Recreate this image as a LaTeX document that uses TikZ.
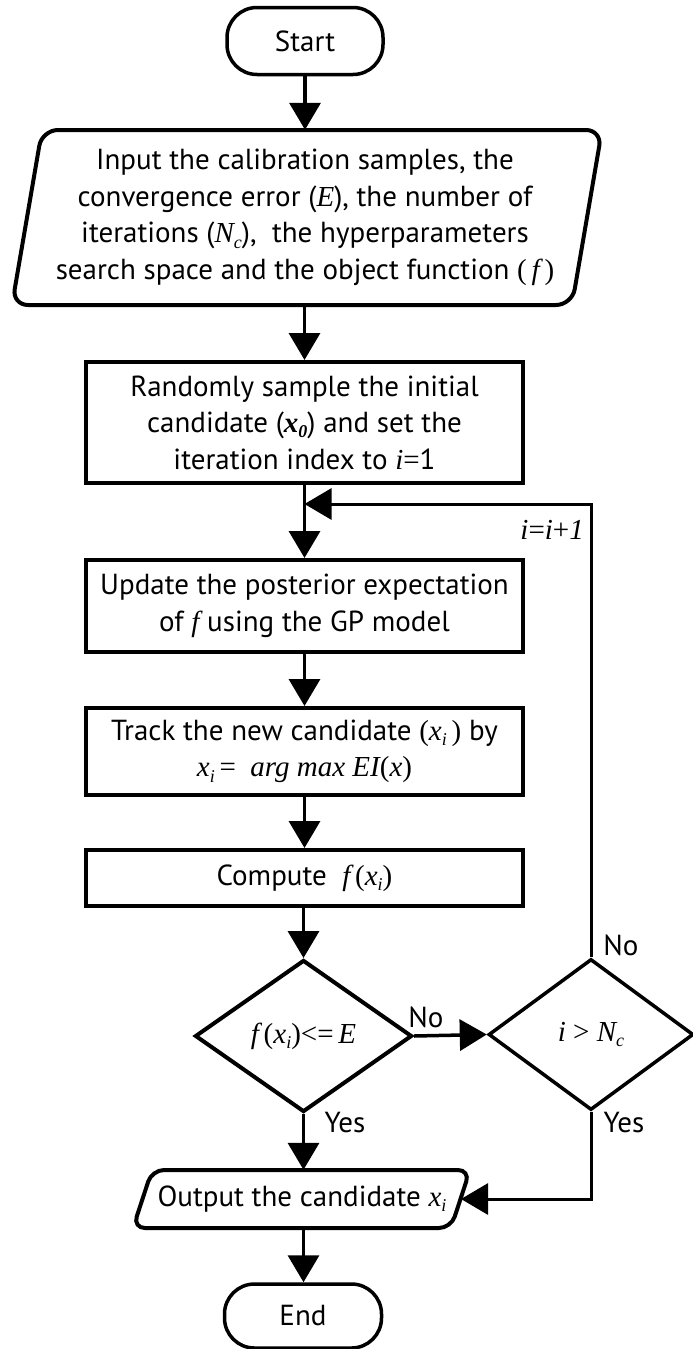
\documentclass[tikz,border=0pt]{standalone}
\usepackage{fontspec}
\setmainfont{PT Sans}
\newfontfamily\tms{Liberation Serif}
\usetikzlibrary{arrows.meta,shapes.geometric}
\newcommand\mv[1]{{\tms\itshape #1}}
\newcommand\lowsub[1]{\raisebox{-0.35ex}{\fontsize{18}{18}\selectfont #1}}
\tikzset{
  every node/.style={font=\fontsize{29}{36.5}\selectfont},
  procbox/.style={draw, line width=4pt, minimum width=437pt, align=center, inner sep=0pt},
  term/.style={draw, line width=3.5pt, rounded corners=30pt, minimum width=156pt, minimum height=67pt},
  dec/.style={draw, diamond, line width=4pt, inner sep=0pt, aspect=1.43},
  conn/.style={line width=3.5pt, -{Triangle[length=27pt,width=31pt]}},
  thinconn/.style={line width=3pt, -{Triangle[length=27pt,width=31pt]}},
  io/.style={line width=4pt, rounded corners=16pt},
  lbl/.style={inner sep=0pt}
}
\begin{document}
\begin{tikzpicture}[x=1pt,y=-1pt]
\useasboundingbox (0,0) rectangle (693,1349);
% Start
\node[term] (start) at (305,41) {Start};
% Input parallelogram
\draw[io] (42,130) -- (602,130) -- (572,305) -- (12,305) -- cycle;
\node[align=center, minimum height=175pt, inner sep=0pt] (input) at (305,217.5)
  {Input the calibration samples, the\\
   convergence error (\mv{E}), the number of\\
   iterations (\mv{N}\lowsub{\mv{c}}),\ \ the hyperparameters\\
   search space and the object function {\tms(}\,\mv{f}\,{\tms)}};
% Boxes
\node[procbox, minimum height=121pt] (b1) at (304.5,422.5)
  {Randomly sample the initial\\
   candidate ({\tms\bfseries\itshape x}\lowsub{\tms\bfseries\itshape 0}) and set the\\
   iteration index to \mv{i}{\tms=}1};
\node[procbox, minimum height=92pt] (b2) at (304.5,606)
  {Update the posterior expectation\\
   of \mv{f} using the GP model};
\node[procbox, minimum height=87pt] (b3) at (304.5,751.5)
  {Track the new candidate {\tms(}\mv{x}\lowsub{\mv{i}}\,{\tms)} by\\
   \mv{x}\lowsub{\mv{i}}{\tms\,=\ \ }\mv{arg max EI}{\tms(}\mv{x}{\tms)}};
\node[procbox, minimum height=56pt] (b4) at (304.5,878)
  {Compute\ \ \mv{f}\,{\tms(}\mv{x}\lowsub{\mv{i}}{\tms)}};
% Decisions
\node[dec, minimum width=217pt, minimum height=152pt] (d1) at (303.5,1036)
  {\mv{f}\,{\tms(}\mv{x}\lowsub{\mv{i}}{\tms)<=}\,\mv{E}};
\node[dec, line width=3.5pt, minimum width=205pt, minimum height=151pt] (d2) at (591,1034.5)
  {\mv{i}{\tms\ >\ }\mv{N}\lowsub{\mv{c}}};
% Output parallelogram
\draw[io, rounded corners=12pt] (152,1170) -- (470,1170) -- (451,1228) -- (133,1228) -- cycle;
\node[minimum height=58pt, inner sep=0pt] (out) at (302,1199)
  {Output the candidate \mv{x}\lowsub{\mv{i}}};
\coordinate (outR) at (461,1199);
% End
\node[term, minimum width=157pt, minimum height=64pt] (end) at (303,1316) {End};
% Connectors
\draw[conn] (start.south) -- (start.south |- input.north);
\draw[conn] (input.south -| b1.north) -- (b1.north);
\coordinate (join) at (304.5,504);
\draw[conn] (b1.south) -- (b2.north);
\draw[conn] (b2.south) -- (b3.north);
\draw[conn] (b3.south) -- (b4.north);
\draw[conn] (b4.south -| d1.north) -- (d1.north);
\draw[conn] (d1.south) -- (d1.south |- out.north);
\draw[conn] (d1.south |- out.south) -- (d1.south |- end.north);
\draw[conn] (d1.east) -- (d2.west);
\draw[thinconn] (d2.south) |- (outR);
\draw[thinconn] (d2.north) |- (join);
% Labels
\node[lbl, anchor=east] (inc) at (584,530) {\mv{i}{\tms=}\mv{i}{\tms+}\mv{1}};
\node[lbl] (no1) at (426,1017) {No};
\node[lbl] (no2) at (621,945) {No};
\node[lbl] (yes1) at (345,1123) {Yes};
\node[lbl] (yes2) at (624,1123) {Yes};
\end{tikzpicture}
\end{document}
